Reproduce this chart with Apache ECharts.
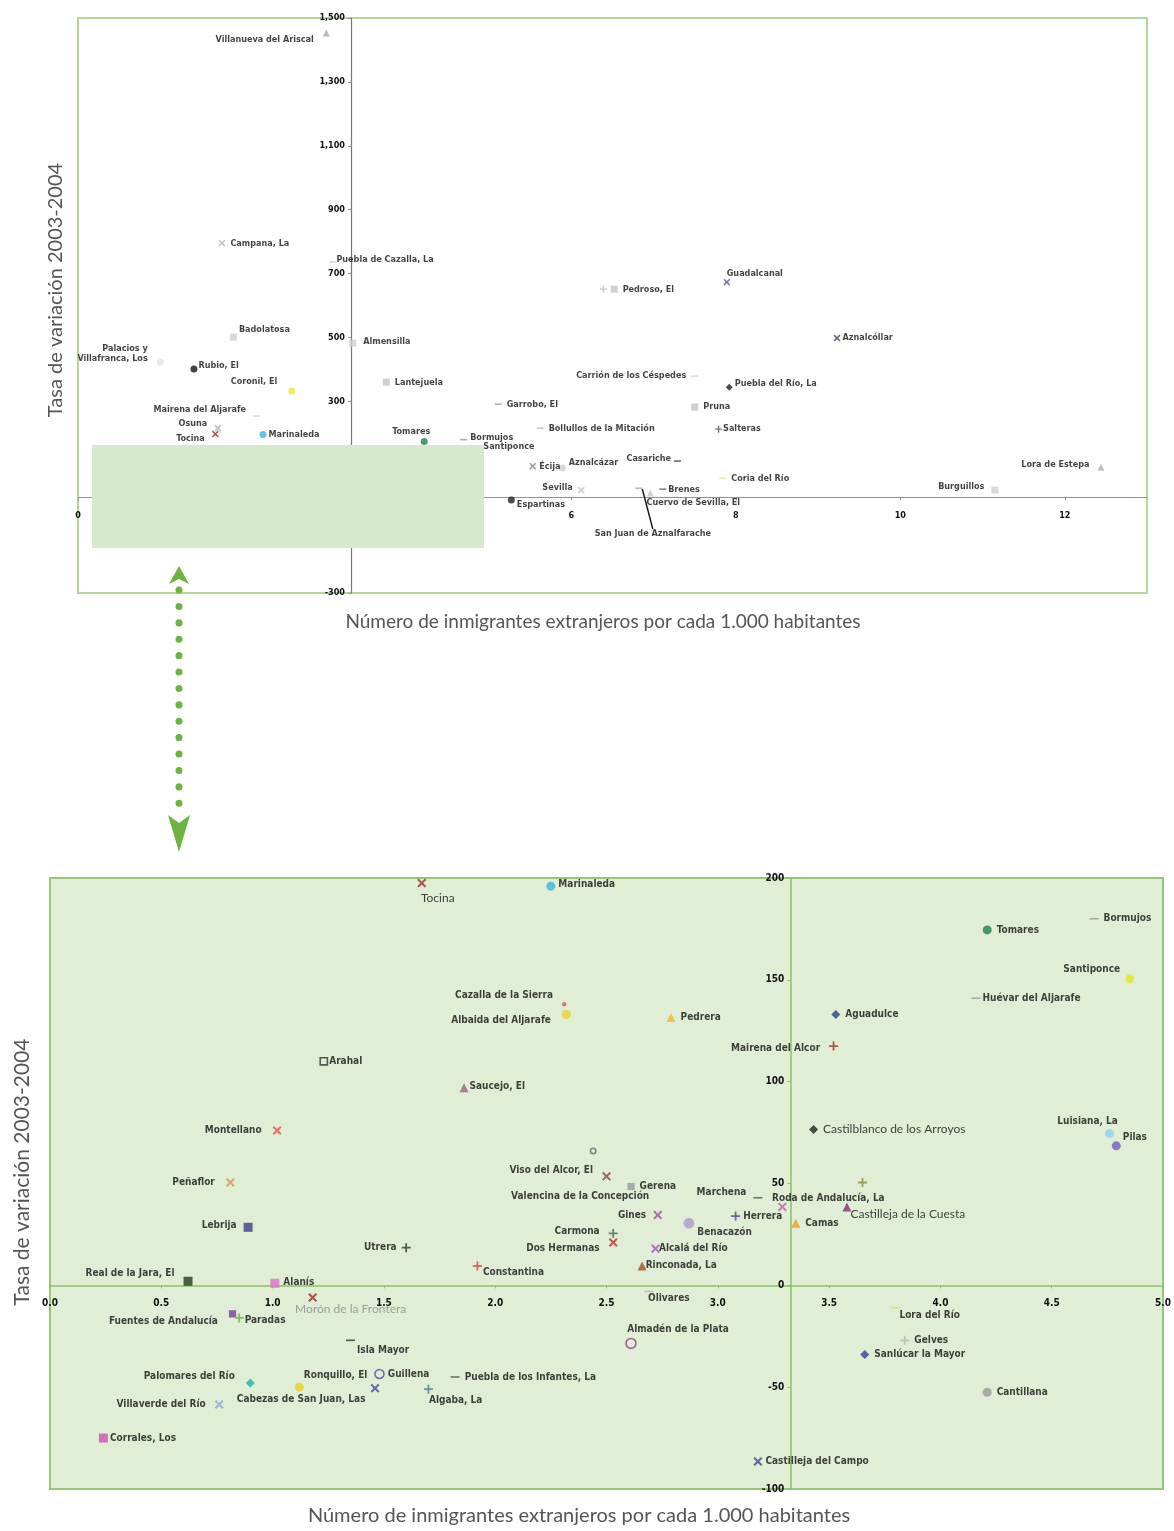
<!DOCTYPE html>
<html>
<head>
<meta charset="utf-8">
<script src="https://cdn.jsdelivr.net/npm/echarts@6/dist/echarts.min.js"></script>
<style>
  html, body { margin: 0; padding: 0; background: #fff; }
  #chart { width: 1174px; height: 1531px; }
</style>
</head>
<body>
<div id="chart"></div>
<script>
// municipios fuera del recuadro ampliado (solo en el gráfico general)
const highNames = ['Villanueva del Ariscal', 'Campana, La', 'Puebla de Cazalla, La', 'Badolatosa',
  'Palacios y Villafranca, Los', 'Rubio, El', 'Coronil, El', 'Mairena del Aljarafe', 'Osuna',
  'Almensilla', 'Lantejuela', 'Pedroso, El', '', 'Guadalcanal', 'Aznalcóllar',
  'Carrión de los Céspedes', 'Puebla del Río, La', 'Pruna', 'Garrobo, El',
  'Bollullos de la Mitación', 'Salteras', 'Écija', 'Aznalcázar', 'Casariche', 'Coria del Río',
  'Sevilla', 'Espartinas', 'Brenes', 'Cuervo de Sevilla, El', 'San Juan de Aznalfarache',
  'Burguillos', 'Lora de Estepa'];
const highX = [3.02, 1.75, 3.10, 1.89, 1.00, 1.41, 2.60, 2.17, 1.70, 3.34, 3.75, 6.52, 6.39, 7.89, 9.23,
  7.50, 7.92, 7.50, 5.11, 5.62, 7.79, 5.53, 5.89, 7.29, 7.84, 6.12, 5.27, 7.11, 6.96, 6.82, 11.15, 12.44];
const highY = [1453, 795, 736, 501, 423, 401, 332, 254, 216, 482, 360, 651, 651, 673, 498,
  379, 344, 282, 291, 216, 213, 97, 91, 113, 59, 22, -9, 25, 13, 28, 22, 94];

// municipios dentro del recuadro (aparecen en los dos gráficos)
const lowNames = ['Tocina', 'Marinaleda', 'Tomares', 'Bormujos', 'Santiponce', 'Huévar del Aljarafe',
  'Cazalla de la Sierra', 'Albaida del Aljarafe', 'Pedrera', 'Aguadulce', 'Mairena del Alcor', 'Arahal',
  'Saucejo, El', 'Montellano', 'Castilblanco de los Arroyos', 'Luisiana, La', 'Pilas',
  'Valencina de la Concepción', 'Viso del Alcor, El', 'Peñaflor', '', 'Gerena', 'Marchena',
  'Roda de Andalucía, La', 'Castilleja de la Cuesta', 'Gines', 'Herrera', 'Benacazón', 'Camas',
  'Lebrija', 'Carmona', 'Dos Hermanas', 'Utrera', 'Alcalá del Río', 'Constantina', 'Rinconada, La',
  'Real de la Jara, El', 'Alanís', 'Olivares', 'Morón de la Frontera', 'Lora del Río',
  'Fuentes de Andalucía', 'Paradas', 'Isla Mayor', 'Gelves', 'Almadén de la Plata', 'Sanlúcar la Mayor',
  'Guillena', 'Puebla de los Infantes, La', 'Palomares del Río', 'Ronquillo, El',
  'Cabezas de San Juan, Las', 'Algaba, La', 'Cantillana', 'Villaverde del Río', 'Corrales, Los',
  'Castilleja del Campo'];
const lowX = [1.67, 2.25, 4.21, 4.69, 4.85, 4.16, 2.31, 2.32, 2.79, 3.53, 3.52, 1.23,
  1.86, 1.02, 3.43, 4.76, 4.79, 2.44, 2.50, 0.81, 3.65, 2.61, 3.18,
  3.29, 3.58, 2.73, 3.08, 2.87, 3.35, 0.89, 2.53, 2.53, 1.60, 2.72, 1.92, 2.66,
  0.62, 1.01, 2.69, 1.18, 3.80, 0.82, 0.85, 1.35, 3.84, 2.61, 3.66,
  1.48, 1.82, 0.90, 1.12, 1.46, 1.70, 4.21, 0.76, 0.24, 3.18];
const lowY = [197.5, 196, 174.5, 180, 150.5, 141, 138, 133, 131.5, 133, 117.5, 110,
  97, 76, 76.5, 74.5, 68.5, 66, 53.5, 50.5, 50.5, 48.5, 43,
  38.5, 38.5, 34.5, 34, 30.5, 30.5, 28.5, 25.5, 21, 18.5, 18, 9.5, 9.5,
  2, 1, -3, -6, -11, -14, -16, -27, -27, -28.5, -34,
  -43.5, -45, -48, -50, -50.5, -51, -52.5, -58.5, -75, -86.5];

// ejes
const topXTicks = [0, 2, 4, 6, 8, 10, 12];
const topXMax = 13;
const topYTicks = [-300, -100, 100, 300, 500, 700, 900, 1100, 1300, 1500];
const lowXTicks = [0, 0.5, 1, 1.5, 2, 2.5, 3, 3.5, 4, 4.5, 5];
const lowYTicks = [-100, -50, 0, 50, 100, 150, 200];
const crossX = 3.32; // el eje vertical corta en la media provincial
const crossY = 0;

const xTitle = 'Número de inmigrantes extranjeros por cada 1.000 habitantes';
const yTitle = 'Tasa de variación 2003-2004';

// ---- estilos ----
const SYM = {
  x: 'path://M0,1.6L1.6,0L5,3.4L8.4,0L10,1.6L6.6,5L10,8.4L8.4,10L5,6.6L1.6,10L0,8.4L3.4,5Z',
  plus: 'path://M4,0H6V4H10V6H6V10H4V6H0V4H4Z',
  dash: 'path://M0,0H10V10H0Z',
  tri: 'triangle', dia: 'diamond', sq: 'rect', dot: 'circle'
};

const highStyle = {
  'Villanueva del Ariscal': ['tri', '#a8a8a8'], 'Campana, La': ['x', '#b8b8b8'],
  'Puebla de Cazalla, La': ['dash', '#c8c8c8'], 'Badolatosa': ['sq', '#cfcfcf'],
  'Palacios y Villafranca, Los': ['dot', '#e2e2e2'], 'Rubio, El': ['dot', '#111'],
  'Coronil, El': ['dot', '#eaea3a'], 'Mairena del Aljarafe': ['dash', '#d0d0d0'], 'Osuna': ['x', '#b0b0b0'],
  'Almensilla': ['sq', '#d0d0d0'], 'Lantejuela': ['sq', '#c4c4c4'], 'Pedroso, El': ['sq', '#c4c4c4'],
  '': ['plus', '#c0c0c0'], 'Guadalcanal': ['x', '#56589a'], 'Aznalcóllar': ['x', '#3b3d6a'],
  'Carrión de los Céspedes': ['dash', '#d4d4d4'], 'Puebla del Río, La': ['dia', '#222'],
  'Pruna': ['sq', '#c0c0c0'], 'Garrobo, El': ['dash', '#9a9a9a'], 'Bollullos de la Mitación': ['dash', '#bdbdbd'],
  'Salteras': ['plus', '#555'], 'Écija': ['x', '#8a8a8a'], 'Aznalcázar': ['dot', '#d0d0d0'],
  'Casariche': ['dash', '#444'], 'Coria del Río': ['dash', '#e4e49a'], 'Sevilla': ['x', '#c0c0c0'],
  'Espartinas': ['dot', '#222'], 'Brenes': ['dash', '#666'], 'Cuervo de Sevilla, El': ['tri', '#c4c4c4'],
  'San Juan de Aznalfarache': ['dash', '#aaa'], 'Burguillos': ['sq', '#d0d0d0'], 'Lora de Estepa': ['tri', '#b0b0b0']
};

const lowStyle = {
  'Tocina': ['x', '#9a2a2a'], 'Marinaleda': ['dot', '#39b4e0'], 'Tomares': ['dot', '#1e8050'],
  'Bormujos': ['dash', '#9a9a9a'], 'Santiponce': ['dot', '#e9e51e'], 'Huévar del Aljarafe': ['dash', '#9a9a9a'],
  'Cazalla de la Sierra': ['dot', '#d06060', 0.5], 'Albaida del Aljarafe': ['dot', '#ecd12a'],
  'Pedrera': ['tri', '#f5b82a'], 'Aguadulce': ['dia', '#2d3f8c'], 'Mairena del Alcor': ['plus', '#a03030'],
  'Arahal': ['sqo', '#333', 0.8], 'Saucejo, El': ['tri', '#a0607f'], 'Montellano': ['x', '#e8504a'],
  'Castilblanco de los Arroyos': ['dia', '#222'], 'Luisiana, La': ['dot', '#8fd0f0'], 'Pilas': ['dot', '#6a5fc0'],
  'Valencina de la Concepción': ['ring', '#667', 0.6], 'Viso del Alcor, El': ['x', '#9a3a5a'],
  'Peñaflor': ['x', '#f08a40'], '': ['plus', '#8a8a40'], 'Gerena': ['sq', '#9a9a9a', 0.8],
  'Marchena': ['dash', '#555'], 'Roda de Andalucía, La': ['x', '#c060a0'],
  'Castilleja de la Cuesta': ['tri', '#8a2a6a'], 'Gines': ['x', '#a04aa0'], 'Herrera': ['plus', '#5a3a9a'],
  'Benacazón': ['dot', '#a89ac8', 1.2], 'Camas': ['tri', '#f59a20'], 'Lebrija': ['sq', '#3a3f8a'],
  'Carmona': ['plus', '#4a6a5a'], 'Dos Hermanas': ['x', '#c03030'], 'Utrera': ['plus', '#333'],
  'Alcalá del Río': ['x', '#a050c0'], 'Constantina': ['plus', '#e04040'], 'Rinconada, La': ['tri', '#a0501a'],
  'Real de la Jara, El': ['sq', '#1f3d1f'], 'Alanís': ['sq', '#e070d0'], 'Olivares': ['dash', '#b0b0b0'],
  'Morón de la Frontera': ['x', '#9b2d2d'], 'Lora del Río': ['dash', '#e0e040'],
  'Fuentes de Andalucía': ['sq', '#7a3aa0', 0.8], 'Paradas': ['plus', '#6ab040'], 'Isla Mayor': ['dash', '#333'],
  'Gelves': ['plus', '#b8b8b8'], 'Almadén de la Plata': ['ring', '#9a3a8a', 1.1], 'Sanlúcar la Mayor': ['dia', '#3a3f9a'],
  'Guillena': ['ring', '#5a4aa0'], 'Puebla de los Infantes, La': ['dash', '#555'], 'Palomares del Río': ['dia', '#20b0a0'],
  'Ronquillo, El': ['dot', '#f0d020'], 'Cabezas de San Juan, Las': ['x', '#4a4aa0'], 'Algaba, La': ['plus', '#3a7aa0'],
  'Cantillana': ['dot', '#9a9a9a'], 'Villaverde del Río': ['x', '#8aa8d8'], 'Corrales, Los': ['sq', '#d050b0'],
  'Castilleja del Campo': ['x', '#3a4a8a']
};

// etiquetas: posición y desplazamiento
const highLabels = {
  'Villanueva del Ariscal': { p: 'left', o: [-4, 7] }, 'Campana, La': { p: 'right' },
  'Puebla de Cazalla, La': { p: 'right', o: [-5, -2] }, 'Badolatosa': { p: 'right', o: [-3, -7] },
  'Palacios y Villafranca, Los': { p: 'left', o: [-4, -8], text: 'Palacios y\nVillafranca, Los' },
  'Rubio, El': { p: 'right', o: [-4, -3] }, 'Coronil, El': { p: 'left', o: [-6, -9] },
  'Mairena del Aljarafe': { p: 'left', o: [-2, -6] }, 'Osuna': { p: 'left', o: [-2, -5] },
  'Almensilla': { p: 'right', o: [2, -2] }, 'Lantejuela': { p: 'right' }, 'Pedroso, El': { p: 'right' },
  'Guadalcanal': { p: 'top', o: [28, 5] }, 'Aznalcóllar': { p: 'right', o: [-3, 0] },
  'Carrión de los Céspedes': { p: 'left' }, 'Puebla del Río, La': { p: 'right', o: [-3, -4] },
  'Pruna': { p: 'right' }, 'Garrobo, El': { p: 'right' }, 'Bollullos de la Mitación': { p: 'right' },
  'Salteras': { p: 'right', o: [-4, 0] }, 'Écija': { p: 'right', o: [-2, 0] },
  'Aznalcázar': { p: 'right', o: [-2, -5] }, 'Casariche': { p: 'left', o: [2, -2] },
  'Coria del Río': { p: 'right' }, 'Sevilla': { p: 'left', o: [0, -2] },
  'Espartinas': { p: 'right', o: [-3, 5] }, 'Brenes': { p: 'right', o: [-3, 0] },
  'Cuervo de Sevilla, El': { p: 'bottom', o: [43, -4] },
  'San Juan de Aznalfarache': { p: 'bottom', o: [14, 35], line: 1 },
  'Burguillos': { p: 'left', o: [-2, -3] }, 'Lora de Estepa': { p: 'left', o: [-3, -2] },
  'Tocina': { p: 'left', o: [-2, 5] }, 'Marinaleda': { p: 'right', o: [-3, 0] },
  'Tomares': { p: 'top', o: [-13, 4] }, 'Bormujos': { p: 'right', o: [-2, -2] },
  'Santiponce': { p: 'right', o: [-2, -2] }
};
const highLabelledLow = ['Tocina', 'Marinaleda', 'Tomares', 'Bormujos', 'Santiponce'];

const lowLabels = {
  'Tocina': { p: 'bottom', o: [16, 0], wide: 1 }, 'Marinaleda': { p: 'right', o: [-2, -2] },
  'Tomares': { p: 'right' }, 'Bormujos': { p: 'right' }, 'Santiponce': { p: 'left', o: [0, -9] },
  'Huévar del Aljarafe': { p: 'right', o: [-3, 0] }, 'Cazalla de la Sierra': { p: 'left', o: [-4, -9] },
  'Albaida del Aljarafe': { p: 'left', o: [-6, 6] }, 'Pedrera': { p: 'right' }, 'Aguadulce': { p: 'right' },
  'Mairena del Alcor': { p: 'left', o: [-4, 2] }, 'Arahal': { p: 'right', o: [-4, 0] },
  'Saucejo, El': { p: 'right', o: [-4, -1] }, 'Montellano': { p: 'left', o: [-6, 0] },
  'Castilblanco de los Arroyos': { p: 'right', wide: 1 }, 'Luisiana, La': { p: 'top', o: [-22, 3] },
  'Pilas': { p: 'right', o: [-3, -8] }, 'Valencina de la Concepción': { p: 'bottom', o: [-13, 31] },
  'Viso del Alcor, El': { p: 'left', o: [-4, -6] }, 'Peñaflor': { p: 'left', o: [-6, 0] },
  'Gerena': { p: 'right' }, 'Marchena': { p: 'left', o: [-2, -5] },
  'Roda de Andalucía, La': { p: 'top', o: [46, 6] }, 'Castilleja de la Cuesta': { p: 'right', o: [-6, 7], wide: 1 },
  'Gines': { p: 'left', o: [-2, 0] }, 'Herrera': { p: 'right', o: [-2, 0] }, 'Benacazón': { p: 'right', o: [-2, 9] },
  'Camas': { p: 'right' }, 'Lebrija': { p: 'left', o: [-2, -2] }, 'Carmona': { p: 'left', o: [-4, -2] },
  'Dos Hermanas': { p: 'left', o: [-4, 6] }, 'Utrera': { p: 'left' }, 'Alcalá del Río': { p: 'right', o: [-6, 0] },
  'Constantina': { p: 'right', o: [-4, 6] }, 'Rinconada, La': { p: 'right', o: [-6, -1] },
  'Real de la Jara, El': { p: 'left', o: [-4, -8] }, 'Alanís': { p: 'right', o: [-1, -1] },
  'Olivares': { p: 'bottom', o: [20, -4] }, 'Morón de la Frontera': { p: 'bottom', o: [38, -3], wide: 1, color: '#8a8a8a' },
  'Lora del Río': { p: 'right', o: [-6, 8] }, 'Fuentes de Andalucía': { p: 'left', o: [-6, 8] },
  'Paradas': { p: 'right', o: [-4, 2] }, 'Isla Mayor': { p: 'right', o: [-3, 10] }, 'Gelves': { p: 'right' },
  'Almadén de la Plata': { p: 'top', o: [47, 2] }, 'Sanlúcar la Mayor': { p: 'right' },
  'Guillena': { p: 'right', o: [-2, 0] }, 'Puebla de los Infantes, La': { p: 'right' },
  'Palomares del Río': { p: 'left', o: [-6, -7] }, 'Ronquillo, El': { p: 'right', o: [-5, -12] },
  'Cabezas de San Juan, Las': { p: 'left', o: [0, 11] }, 'Algaba, La': { p: 'right', o: [-9, 11] },
  'Cantillana': { p: 'right' }, 'Villaverde del Río': { p: 'left', o: [-4, 0] },
  'Corrales, Los': { p: 'right', o: [-3, 0] }, 'Castilleja del Campo': { p: 'right', o: [-2, 0] }
};

const NARROW = "'Liberation Sans Narrow', 'DejaVu Sans Condensed', sans-serif";

// ---- layout ----
const topGrid = { left: 78, top: 18, width: 1069, height: 575 };
const lowGrid = { left: 50, top: 878, width: 1115, height: 611 };

// useLayout: offsets go through labelLayout (dx/dy) instead of label.offset
function makeItem(name, x, y, st, lab, size, fontSize, useLayout) {
  const [sym, color, scale] = st || ['dot', '#aaa'];
  const s = size * (scale || 1);
  const it = { name: name, value: [x, y], symbol: SYM[sym], symbolSize: s, itemStyle: { color: color } };
  if (sym === 'dash') it.symbolSize = [s, 1.6];
  if (sym === 'ring' || sym === 'sqo') {
    it.symbol = sym === 'ring' ? 'circle' : 'rect';
    it.itemStyle = { color: 'rgba(0,0,0,0)', borderColor: color, borderWidth: 1.6 };
  }
  if (lab && name) {
    it.label = {
      show: true, position: lab.p, offset: useLayout ? [0, 0] : (lab.o || [0, 0]), distance: 5,
      formatter: lab.text || '{b}',
      fontFamily: lab.wide ? 'Lato' : NARROW,
      fontWeight: lab.wide ? 'normal' : 'bold',
      fontSize: lab.wide ? fontSize + 2 : fontSize,
      color: lab.color || '#111', lineHeight: fontSize + 1
    };
    if (lab.line) it.labelLine = { show: true, lineStyle: { color: '#111', width: 1.4 } };
  } else {
    it.label = { show: false };
  }
  return it;
}

const topNames = highNames.concat(lowNames);
const topData = highNames.map((n, i) => makeItem(n, highX[i], highY[i], highStyle[n], highLabels[n], 7, 9, true))
  .concat(lowNames.map((n, i) => makeItem(n, lowX[i], lowY[i], lowStyle[n],
    highLabelledLow.includes(n) ? highLabels[n] : null, 7, 9, true)));
const lowData = lowNames.map((n, i) => makeItem(n, lowX[i], lowY[i], lowStyle[n], lowLabels[n], 9, 10, false));

const axisFont = { fontFamily: NARROW, fontWeight: 'bold', fontSize: 9, color: '#111' };

// px from grid bottom up to the horizontal crossing (negative offset lifts the axis)
function xAxisLift(ticks, grid) {
  const lo = ticks[0], hi = ticks[ticks.length - 1];
  return -(crossY - lo) / (hi - lo) * grid.height;
}
function yAxisShift(lo, hi, grid) {
  return -(crossX - lo) / (hi - lo) * grid.width;
}

const chart = echarts.init(document.getElementById('chart'), null, { renderer: 'canvas' });

chart.setOption({
  backgroundColor: '#fff',
  animation: false,
  grid: [
    Object.assign({ show: true, borderColor: '#b6d79c', borderWidth: 2, backgroundColor: '#fff' }, topGrid),
    Object.assign({ show: true, borderColor: '#97c776', borderWidth: 2, backgroundColor: '#dfeed5' }, lowGrid)
  ],
  xAxis: [
    {
      gridIndex: 0, type: 'value', min: topXTicks[0], max: topXMax, interval: topXTicks[1] - topXTicks[0],
      position: 'bottom', offset: xAxisLift(topYTicks, topGrid),
      axisLine: { onZero: false, lineStyle: { color: '#8f9c70', width: 1.2 } },
      axisTick: { length: 3, lineStyle: { color: '#8f9c70' } },
      axisLabel: Object.assign({ margin: 14, showMaxLabel: false }, axisFont),
      splitLine: { show: false }
    },
    {
      gridIndex: 1, type: 'value', min: lowXTicks[0], max: lowXTicks[lowXTicks.length - 1],
      interval: lowXTicks[1] - lowXTicks[0],
      position: 'bottom', offset: xAxisLift(lowYTicks, lowGrid),
      axisLine: { onZero: false, lineStyle: { color: '#8cc267', width: 1.5 } },
      axisTick: { length: 3, lineStyle: { color: '#8cc267' } },
      axisLabel: Object.assign({ margin: 13, formatter: v => v.toFixed(1) }, axisFont, { fontSize: 10 }),
      splitLine: { show: false }
    }
  ],
  yAxis: [
    {
      gridIndex: 0, type: 'value', min: topYTicks[0], max: topYTicks[topYTicks.length - 1],
      interval: topYTicks[1] - topYTicks[0], position: 'left',
      offset: yAxisShift(topXTicks[0], topXMax, topGrid),
      axisLine: { show: true, onZero: false, lineStyle: { color: '#75804f', width: 1.2 } },
      axisTick: { show: true, length: 3, lineStyle: { color: '#999' } },
      axisLabel: Object.assign({ margin: 6, formatter: v => v.toLocaleString('en-US') }, axisFont),
      splitLine: { show: false }
    },
    {
      gridIndex: 1, type: 'value', min: lowYTicks[0], max: lowYTicks[lowYTicks.length - 1],
      interval: lowYTicks[1] - lowYTicks[0], position: 'left',
      offset: yAxisShift(lowXTicks[0], lowXTicks[lowXTicks.length - 1], lowGrid),
      axisLine: { show: true, onZero: false, lineStyle: { color: '#8cc267', width: 1.5 } },
      axisTick: { show: true, length: 3, lineStyle: { color: '#8cc267' } },
      axisLabel: Object.assign({ margin: 6 }, axisFont, { fontSize: 10 }),
      splitLine: { show: false }
    }
  ],
  series: [
    {
      type: 'scatter', xAxisIndex: 0, yAxisIndex: 0, data: topData, z: 2,
      labelLayout: function (params) {
        const n = topNames[params.dataIndex];
        const lab = params.dataIndex < highNames.length || highLabelledLow.includes(n) ? highLabels[n] : null;
        if (lab && lab.o) return { dx: lab.o[0], dy: lab.o[1] };
        return {};
      }
    },
    { type: 'scatter', xAxisIndex: 1, yAxisIndex: 1, data: lowData, z: 2 }
  ],
  graphic: [
    // recuadro que marca la zona ampliada
    { type: 'rect', zlevel: 1, z: 100, shape: { x: 92, y: 445, width: 392, height: 103 },
      style: { fill: '#d7e9cc', opacity: 1 } },
    // flecha punteada
    { type: 'line', zlevel: 1, z: 100, shape: { x1: 179, y1: 590, x2: 179, y2: 812 },
      style: { stroke: '#6cb33f', lineWidth: 7, lineDash: [0.1, 16.3], lineCap: 'round' } },
    { type: 'polygon', zlevel: 1, z: 100, shape: { points: [[179, 566], [189, 584], [179, 579], [169, 584]] },
      style: { fill: '#6cb33f' } },
    { type: 'polygon', zlevel: 1, z: 100, shape: { points: [[179, 852], [190, 815], [179, 823], [168, 815]] },
      style: { fill: '#6cb33f' } },
    // títulos de ejes
    { type: 'text', z: 100, x: 603, y: 622,
      style: { text: xTitle, font: '19px Lato', fill: '#555', align: 'center', verticalAlign: 'middle' } },
    { type: 'text', z: 100, x: 579, y: 1516,
      style: { text: xTitle, font: '20px Lato', fill: '#555', align: 'center', verticalAlign: 'middle' } },
    { type: 'text', z: 100, x: 56, y: 290, rotation: Math.PI / 2,
      style: { text: yTitle, font: '20px Lato', fill: '#555', align: 'center', verticalAlign: 'middle' } },
    { type: 'text', z: 100, x: 22, y: 1172, rotation: Math.PI / 2,
      style: { text: yTitle, font: '21px Lato', fill: '#555', align: 'center', verticalAlign: 'middle' } }
  ]
});
</script>
</body>
</html>
